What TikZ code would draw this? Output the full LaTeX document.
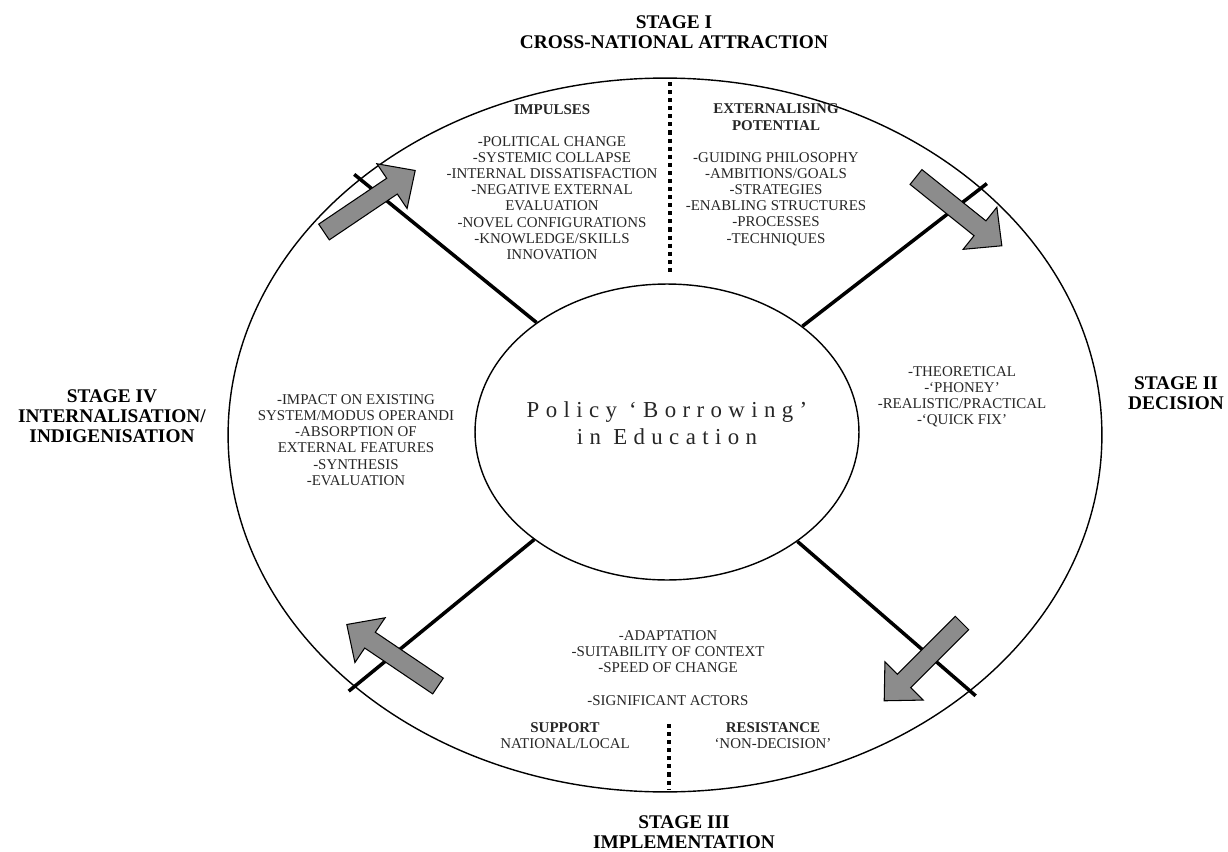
\documentclass[tikz,border=0pt]{standalone}
\usepackage{fontspec}
\setmainfont{Liberation Serif}
\usetikzlibrary{shapes.geometric}
\tikzset{
  blockarrow/.pic={\draw[arrowbody] (0,-9.5) -- (82,-9.5) -- (82,-27) -- (110,0) -- (82,27) -- (82,9.5) -- (0,9.5) -- cycle;},
  arrowbody/.style={fill=black!45, draw=black, line width=0.6pt, line join=miter},
  listtext/.style={align=center, font=\fontsize{8.5}{9.2}\selectfont, text=black!85, inner sep=0},
  headtext/.style={align=center, font=\fontsize{8.5}{9.7}\selectfont\bfseries, text=black!85, inner sep=0},
  stagetitle/.style={align=center, font=\fontsize{11}{11.5}\selectfont\bfseries, inner sep=0},
  ring/.style={draw, ellipse, line width=0.8pt, inner sep=0},
  spoke/.style={line width=2pt, shorten <=-4pt},
  divider/.style={line width=2.2pt, dash pattern=on 2.3pt off 2.3pt},
  centretext/.style={align=center, font=\fontsize{13}{15.3}\selectfont\addfontfeature{LetterSpace=28}, text=black!85, inner sep=0}
}
\begin{document}
\begin{tikzpicture}[x=0.02cm,y=-0.02cm]
\useasboundingbox (0,0) rectangle (1228,852);

% rings
\node[ring, minimum width=17.48cm, minimum height=14.28cm] (outer) at (665,435) {};
\node[ring, minimum width=7.68cm, minimum height=5.92cm] (inner) at (667,432) {};

% spokes
\draw[spoke] (outer.140) -- (inner.140);
\draw[spoke] (outer.38) -- (inner.38);
\draw[spoke] (outer.219) -- (inner.219);
\draw[spoke] (outer.320) -- (inner.320);

% dotted dividers
\coordinate (dt1) at (670,82);
\coordinate (dt2) at (670,272);
\coordinate (db1) at (669,724);
\coordinate (db2) at (669,790);
\draw[divider] (dt1) -- (dt2);
\draw[divider] (db1) -- (db2);

% block arrows
\pic[rotate=34] at (324,232) {blockarrow};
\pic[rotate=-38.7] at (916,177) {blockarrow};
\pic[rotate=-135] at (962,623) {blockarrow};
\pic[rotate=146] at (438,686) {blockarrow};

% centre
\node[centretext] (centre) at (667,423) {Policy ‘Borrowing’\\in Education};

% stage titles
\node[stagetitle] (s1) at (674,32) {STAGE I\\CROSS-NATIONAL ATTRACTION};
\node[stagetitle] (s2) at (1176,393) {STAGE II\\DECISION};
\node[stagetitle] (s3) at (684,832) {STAGE III\\IMPLEMENTATION};
\node[stagetitle] (s4) at (112,416) {STAGE IV\\INTERNALISATION/\\INDIGENISATION};

% stage I contents
\node[headtext] (imp) at (552,110) {IMPULSES};
\node[listtext] (impl) at (552,198) {-POLITICAL CHANGE\\-SYSTEMIC COLLAPSE\\-INTERNAL DISSATISFACTION\\-NEGATIVE EXTERNAL\\EVALUATION\\-NOVEL CONFIGURATIONS\\-KNOWLEDGE/SKILLS\\INNOVATION};
\node[headtext] (ext) at (776,117) {EXTERNALISING\\POTENTIAL};
\node[listtext] (extl) at (776,199) {-GUIDING PHILOSOPHY\\-AMBITIONS/GOALS\\-STRATEGIES\\-ENABLING STRUCTURES\\-PROCESSES\\-TECHNIQUES};

% stage II contents
\node[listtext] (dec) at (962,397) {-THEORETICAL\\-‘PHONEY’\\-REALISTIC/PRACTICAL\\-‘QUICK FIX’};

% stage III contents
\node[listtext] (imp3) at (668,668) {-ADAPTATION\\-SUITABILITY OF CONTEXT\\-SPEED OF CHANGE\\[9.2pt]-SIGNIFICANT ACTORS};
\node[listtext] (sup) at (565,736) {\textbf{SUPPORT}\\NATIONAL/LOCAL};
\node[listtext] (res) at (773,736) {\textbf{RESISTANCE}\\‘NON-DECISION’};

% stage IV contents
\node[listtext] (int) at (356,440) {-IMPACT ON EXISTING\\SYSTEM/MODUS OPERANDI\\-ABSORPTION OF\\EXTERNAL FEATURES\\-SYNTHESIS\\-EVALUATION};
\end{tikzpicture}
\end{document}
